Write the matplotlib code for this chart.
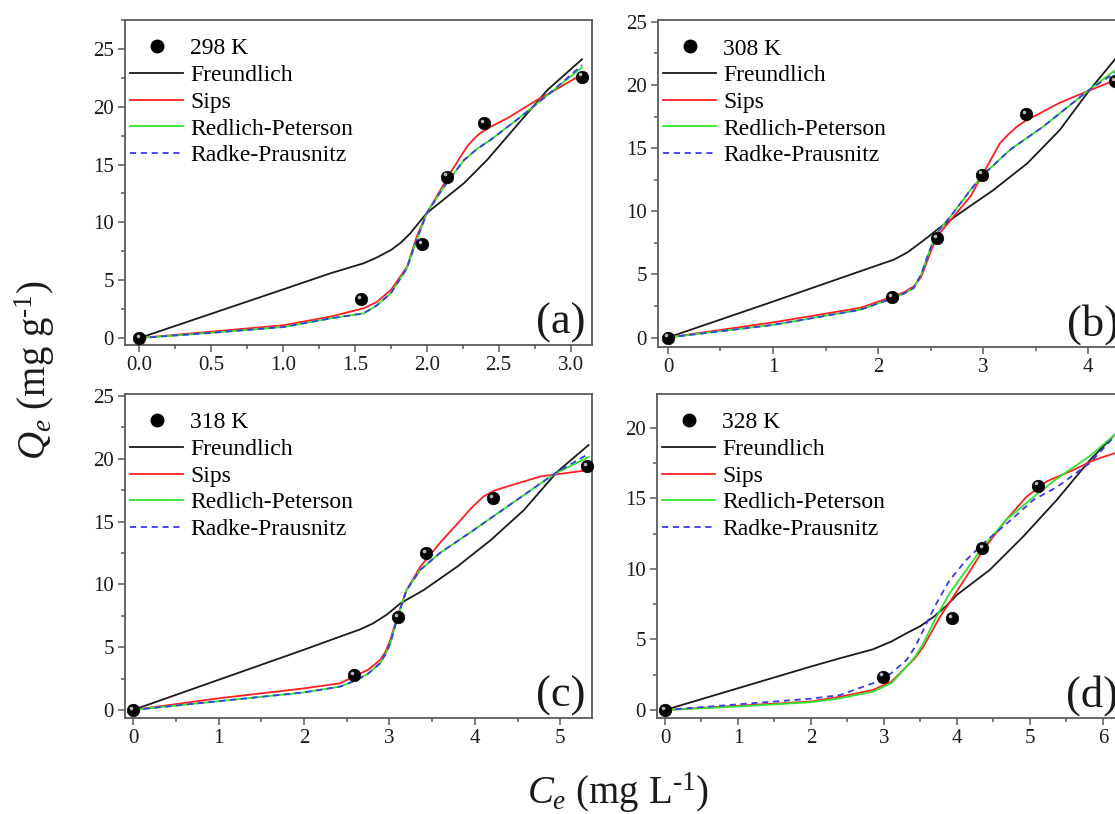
import matplotlib
matplotlib.use("Agg")
import matplotlib.pyplot as plt
from matplotlib.ticker import MultipleLocator, FormatStrFormatter
from matplotlib.transforms import offset_copy
from matplotlib.lines import Line2D

plt.rcParams['font.family'] = ['Liberation Serif', 'DejaVu Serif']
plt.rcParams['mathtext.fontset'] = 'custom'
plt.rcParams['mathtext.rm'] = 'Liberation Serif'
plt.rcParams['mathtext.it'] = 'Liberation Serif:italic'

# ---------------- experimental points ----------------
temps = ["298 K", "308 K", "318 K", "328 K"]
panel_tags = ["(a)", "(b)", "(c)", "(d)"]

exp_x_a = [0.0, 1.54, 1.967, 2.14, 2.40, 3.08]
exp_y_a = [0.0, 3.35, 8.1, 13.95, 18.57, 22.6]
exp_x_b = [0.0, 2.13, 2.56, 2.99, 3.41, 4.25]
exp_y_b = [0.0, 3.2, 7.9, 12.9, 17.7, 20.3]
exp_x_c = [0.0, 2.58, 3.10, 3.43, 4.21, 5.31]
exp_y_c = [0.0, 2.79, 7.37, 12.5, 16.9, 19.4]
exp_x_d = [0.0, 2.99, 3.93, 4.35, 5.11]
exp_y_d = [0.0, 2.37, 6.5, 11.5, 15.9]

# ---------------- fitted curves ----------------
# (a) 298 K
fr_x_a = [0, 0.5, 1.0, 1.33, 1.56, 1.65, 1.75, 1.82, 1.886, 1.94, 2.0, 2.14, 2.26, 2.42, 2.6, 2.84, 3.08]
fr_y_a = [0, 2.1, 4.2, 5.6, 6.46, 6.95, 7.6, 8.25, 9.06, 9.9, 10.8, 12.2, 13.4, 15.4, 18.0, 21.45, 24.1]
sp_x_a = [0, 0.5, 1.0, 1.33, 1.56, 1.65, 1.75, 1.863, 1.93, 2.0, 2.095, 2.19, 2.28, 2.33, 2.37, 2.45, 2.56, 2.77, 2.86, 3.08]
sp_y_a = [0, 0.55, 1.1, 1.85, 2.57, 3.1, 4.15, 6.17, 8.77, 10.8, 12.8, 14.8, 16.55, 17.25, 17.7, 18.3, 19.0, 20.6, 21.2, 22.8]
rp_x_a = [0, 0.5, 1.0, 1.33, 1.56, 1.65, 1.75, 1.86, 1.93, 2.0, 2.12, 2.26, 2.35, 2.44, 2.63, 2.86, 3.08]
rp_y_a = [0, 0.45, 0.95, 1.7, 2.13, 2.8, 3.87, 6.0, 8.5, 10.8, 13.1, 15.4, 16.35, 17.1, 18.9, 21.2, 23.4]
rk_x_a = [0, 0.5, 1.0, 1.33, 1.56, 1.65, 1.75, 1.86, 1.93, 2.0, 2.12, 2.26, 2.35, 2.44, 2.63, 2.86, 3.08]
rk_y_a = [0, 0.45, 0.95, 1.7, 2.13, 2.8, 3.87, 6.0, 8.5, 10.8, 13.1, 15.4, 16.35, 17.1, 18.9, 21.2, 23.6]

# (b) 308 K
fr_x_b = [0, 1.0, 1.83, 2.15, 2.28, 2.4, 2.48, 2.56, 2.78, 3.1, 3.42, 3.73, 3.99, 4.26]
fr_y_b = [0, 2.85, 5.25, 6.17, 6.75, 7.49, 8.0, 8.54, 9.86, 11.7, 13.8, 16.45, 19.36, 22.1]
sp_x_b = [0, 1.0, 1.83, 2.15, 2.25, 2.34, 2.41, 2.46, 2.51, 2.56, 2.69, 2.88, 3.0, 3.16, 3.24, 3.32, 3.40, 3.48, 3.73, 3.99, 4.26]
sp_y_b = [0, 1.2, 2.35, 3.27, 3.6, 4.06, 4.8, 5.9, 7.0, 8.0, 9.3, 11.2, 13.0, 15.4, 16.1, 16.7, 17.15, 17.5, 18.6, 19.5, 20.4]
rp_x_b = [0, 1.0, 1.83, 2.15, 2.25, 2.34, 2.41, 2.46, 2.51, 2.56, 2.69, 2.88, 3.0, 3.26, 3.57, 3.99, 4.26]
rp_y_b = [0, 1.0, 2.2, 3.14, 3.5, 3.93, 5.0, 6.2, 7.3, 8.3, 9.6, 11.7, 12.9, 14.9, 16.7, 19.5, 21.2]
rk_x_b = [0, 1.0, 1.83, 2.15, 2.25, 2.34, 2.41, 2.46, 2.51, 2.56, 2.69, 2.88, 3.0, 3.26, 3.57, 3.99, 4.26]
rk_y_b = [0, 1.0, 2.2, 3.14, 3.5, 3.93, 5.0, 6.2, 7.3, 8.3, 9.6, 11.7, 12.9, 14.9, 16.7, 19.5, 21.0]

# (c) 318 K
fr_x_c = [0, 1.0, 2.0, 2.42, 2.65, 2.81, 2.97, 3.13, 3.4, 3.79, 4.18, 4.57, 4.96, 5.33]
fr_y_c = [0, 2.4, 4.8, 5.84, 6.4, 6.9, 7.6, 8.5, 9.55, 11.4, 13.5, 15.9, 18.95, 21.1]
sp_x_c = [0, 1.0, 2.0, 2.42, 2.62, 2.75, 2.89, 2.95, 3.01, 3.09, 3.2, 3.36, 3.59, 3.83, 3.96, 4.1, 4.22, 4.38, 4.77, 5.33]
sp_y_c = [0, 0.93, 1.72, 2.12, 2.79, 3.2, 3.98, 4.6, 5.57, 7.43, 9.55, 11.4, 13.3, 15.1, 16.1, 17.0, 17.45, 17.8, 18.6, 19.1]
rp_x_c = [0, 1.0, 2.0, 2.42, 2.62, 2.75, 2.89, 2.95, 3.01, 3.09, 3.2, 3.36, 3.59, 3.98, 4.38, 4.77, 4.96, 5.33]
rp_y_c = [0, 0.7, 1.4, 1.86, 2.39, 2.9, 3.72, 4.4, 5.3, 7.3, 9.55, 11.15, 12.5, 14.3, 16.2, 18.05, 18.9, 20.15]
rk_x_c = [0, 1.0, 2.0, 2.42, 2.62, 2.75, 2.89, 2.95, 3.01, 3.09, 3.2, 3.36, 3.59, 3.98, 4.38, 4.77, 4.96, 5.33]
rk_y_c = [0, 0.7, 1.4, 1.86, 2.39, 2.9, 3.72, 4.4, 5.3, 7.3, 9.55, 11.15, 12.5, 14.3, 16.2, 18.05, 18.95, 20.4]

# (d) 328 K
fr_x_d = [0, 1.0, 2.0, 2.4, 2.85, 3.1, 3.31, 3.5, 3.68, 3.85, 4.0, 4.45, 4.91, 5.37, 5.82, 6.16]
fr_y_d = [0, 1.54, 3.08, 3.67, 4.3, 4.85, 5.44, 5.95, 6.6, 7.35, 8.16, 9.93, 12.3, 14.9, 17.7, 19.5]
sp_x_d = [0, 1.0, 2.0, 2.4, 2.85, 3.1, 3.31, 3.43, 3.54, 3.77, 3.95, 4.13, 4.36, 4.68, 4.95, 5.23, 5.59, 5.87, 6.16]
sp_y_d = [0, 0.3, 0.6, 0.94, 1.42, 2.0, 3.07, 3.7, 4.49, 6.62, 8.03, 9.45, 11.35, 13.5, 15.1, 16.2, 17.0, 17.7, 18.2]
rp_x_d = [0, 1.0, 2.0, 2.4, 2.85, 3.1, 3.31, 3.43, 3.54, 3.72, 3.9, 4.13, 4.36, 4.68, 5.05, 5.37, 5.82, 6.16]
rp_y_d = [0, 0.25, 0.55, 0.83, 1.3, 1.9, 3.07, 3.8, 4.73, 6.62, 8.27, 9.93, 11.6, 13.5, 15.1, 16.4, 18.0, 19.5]
rk_x_d = [0, 1.0, 2.0, 2.4, 2.85, 3.1, 3.31, 3.43, 3.54, 3.72, 3.9, 4.13, 4.36, 4.68, 5.05, 5.37, 5.82, 6.16]
rk_y_d = [0, 0.4, 0.8, 1.06, 1.9, 2.6, 3.55, 4.5, 5.67, 7.57, 9.2, 10.64, 11.8, 13.2, 14.9, 15.8, 17.5, 19.4]

model_names = ["Freundlich", "Sips", "Redlich-Peterson", "Radke-Prausnitz"]

panels = [
    dict(ex=(exp_x_a, exp_y_a),
         curves=[(fr_x_a, fr_y_a), (sp_x_a, sp_y_a), (rp_x_a, rp_y_a), (rk_x_a, rk_y_a)],
         rect=[0.1121, 0.5762, 0.4189, 0.3993], xlim=(-0.1, 3.15), ylim=(-0.6, 27.5),
         xmaj=0.5, xmin=0.25, xfmt='%.1f', ymax_tick=25),
    dict(ex=(exp_x_b, exp_y_b),
         curves=[(fr_x_b, fr_y_b), (sp_x_b, sp_y_b), (rp_x_b, rp_y_b), (rk_x_b, rk_y_b)],
         rect=[0.5901, 0.5737, 0.4189, 0.4017], xlim=(-0.095, 4.35), ylim=(-0.75, 25.15),
         xmaj=1, xmin=0.5, xfmt='%d', ymax_tick=25),
    dict(ex=(exp_x_c, exp_y_c),
         curves=[(fr_x_c, fr_y_c), (sp_x_c, sp_y_c), (rp_x_c, rp_y_c), (rk_x_c, rk_y_c)],
         rect=[0.1121, 0.1179, 0.4189, 0.3981], xlim=(-0.094, 5.37), ylim=(-0.64, 25.16),
         xmaj=1, xmin=0.5, xfmt='%d', ymax_tick=25),
    dict(ex=(exp_x_d, exp_y_d),
         curves=[(fr_x_d, fr_y_d), (sp_x_d, sp_y_d), (rp_x_d, rp_y_d), (rk_x_d, rk_y_d)],
         rect=[0.5892, 0.1179, 0.4189, 0.3981], xlim=(-0.11, 6.29), ylim=(-0.57, 22.4),
         xmaj=1, xmin=0.5, xfmt='%d', ymax_tick=20),
]

colors = ["#1a1a1a", "#ff1f1f", "#2ee62e", "#3a3aee"]
styles = ["-", "-", "-", (0, (3.4, 2.6))]
axis_grey = "#5a5a5a"

fig = plt.figure(figsize=(11.15, 8.14), dpi=100)

for i, p in enumerate(panels):
    ax = fig.add_axes(p['rect'])
    handles = []
    for (cx, cy), name, c, ls in zip(p['curves'], model_names, colors, styles):
        h, = ax.plot(cx, cy, color=c, ls=ls, lw=1.3, label=name, zorder=2,
                     solid_joinstyle='round')
        handles.append(h)
    ex, ey = p['ex']
    ax.plot(ex, ey, 'o', color='black', ms=9, mec='black', mew=0.5,
            label=temps[i], zorder=4, clip_on=False)
    shine = offset_copy(ax.transData, fig=fig, x=-1.3, y=1.6, units='points')
    ax.plot(ex, ey, 'o', color='#d9d9d9', ms=2.6, mec='none', alpha=0.85,
            transform=shine, zorder=5, clip_on=False)
    leg_pt = Line2D([], [], marker='o', ls='none', color='black', ms=9)
    ax.legend([leg_pt] + handles, [temps[i]] + model_names,
              loc='upper left', bbox_to_anchor=(0.011, 0.945),
              borderaxespad=0, borderpad=0, frameon=False,
              fontsize=17, handlelength=2.25, handletextpad=0.3,
              labelspacing=0.22, numpoints=1)

    ax.set_xlim(*p['xlim'])
    ax.set_ylim(*p['ylim'])
    ax.xaxis.set_major_locator(MultipleLocator(p['xmaj']))
    ax.xaxis.set_minor_locator(MultipleLocator(p['xmin']))
    ax.xaxis.set_major_formatter(FormatStrFormatter(p['xfmt']))
    ax.set_yticks(list(range(0, p['ymax_tick'] + 1, 5)))
    ax.yaxis.set_minor_locator(MultipleLocator(2.5))
    ax.tick_params(which='both', direction='out', top=False, right=False,
                   colors=axis_grey, labelcolor='#1a1a1a', labelsize=15, width=1.1)
    ax.tick_params(which='major', length=5, pad=3)
    ax.tick_params(which='minor', length=3)
    for s in ax.spines.values():
        s.set_color(axis_grey)
        s.set_linewidth(1.3)
    ax.text(0.987, 0.035, panel_tags[i], transform=ax.transAxes,
            ha='right', va='baseline', fontsize=32, color='#1a1a1a')

fig.text(0.031, 0.545, r'$Q_e$ (mg g$^{\text{-}1}$)', rotation=90,
         ha='center', va='center', fontsize=28, color='#1a1a1a')
fig.text(0.554, 0.012, r'$C_e$ (mg L$^{\text{-}1}$)',
         ha='center', va='baseline', fontsize=28, color='#1a1a1a')

fig.savefig("out.png", dpi=100)
